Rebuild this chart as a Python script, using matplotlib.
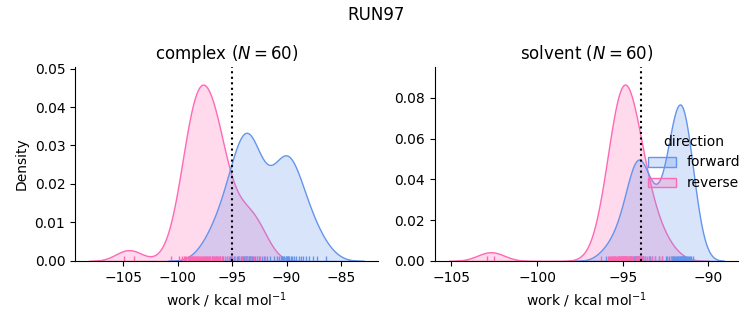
import matplotlib
matplotlib.use("Agg")
import matplotlib.pyplot as plt
import pandas as pd
import seaborn as sns

# work values (kcal/mol)
complex_forward = [
    -97.4, -96.9, -96.5, -96.1, -95.8, -95.5, -95.2, -95.1, -95.0, -94.8,
    -94.6, -94.5, -94.4, -94.2, -94.1, -94.0, -93.9, -93.8, -93.7, -93.65,
    -93.6, -93.5, -93.45, -93.4, -93.3, -93.25, -93.2, -93.1, -92.9, -92.7,
    -92.5, -92.3, -92.1, -91.8, -91.5, -91.2, -90.9, -90.7, -90.5, -90.4,
    -90.3, -90.2, -90.1, -90.05, -90.0, -89.9, -89.85, -89.8, -89.6, -89.5,
    -89.3, -89.1, -88.9, -88.7, -88.5, -88.2, -87.9, -87.6, -87.2, -86.4,
]
complex_reverse = [
    -104.97, -103.98, -100.6,
    -99.9, -99.6, -99.4, -99.3, -99.2, -99.05, -98.95, -98.9, -98.8, -98.7,
    -98.65, -98.6, -98.5, -98.4, -98.35, -98.3, -98.2, -98.1, -98.05, -98.0,
    -97.9, -97.8, -97.7, -97.6, -97.5, -97.4, -97.3, -97.2, -97.15, -97.1,
    -97.0, -96.9, -96.85, -96.8, -96.7, -96.6, -96.5, -96.4, -96.3, -96.2,
    -96.1, -95.95, -95.9, -95.7, -95.5,
    -95.3, -95.0, -94.7, -94.4, -94.1, -93.8, -93.6, -93.3, -93.0, -92.7,
    -92.4, -92.0,
]
solvent_forward = [
    -96.0, -95.5, -95.2, -95.0, -94.8, -94.6, -94.5, -94.4, -94.35, -94.3,
    -94.25, -94.2, -94.15, -94.1, -94.05, -94.0, -93.95, -93.9, -93.85, -93.8,
    -93.7, -93.5, -93.4, -93.3, -93.1, -92.9, -92.7, -92.5, -92.4, -92.3,
    -92.2, -92.15, -92.1, -92.05, -92.0, -91.95, -91.9, -91.85, -91.8, -91.75,
    -91.7, -91.65, -91.62, -91.6, -91.58, -91.55, -91.52, -91.5, -91.48, -91.45,
    -91.42, -91.4, -91.35, -91.3, -91.25, -91.2, -91.15, -91.1, -91.0, -90.9,
]
solvent_reverse = [
    -102.9, -102.5,
    -96.3, -95.85, -95.8, -95.75, -95.7, -95.65, -95.6, -95.55, -95.5, -95.45,
    -95.4, -95.35, -95.3, -95.25, -95.2, -95.15, -95.12, -95.1, -95.08, -95.05,
    -95.02, -95.0, -94.98, -94.95, -94.92, -94.9, -94.88, -94.85, -94.82, -94.8,
    -94.75, -94.72, -94.7, -94.65, -94.6, -94.55, -94.5, -94.45, -94.4, -94.3,
    -94.25, -94.2, -94.15, -94.1, -94.05, -94.0, -93.9, -93.8, -93.7, -93.6,
    -93.5, -93.3, -93.1, -92.9, -92.7, -92.2,
]
phases = ["complex", "solvent"]
free_energy = [-95.0, -93.95]  # dotted reference lines

rows = []
for phase, fwd, rev in [("complex", complex_forward, complex_reverse),
                        ("solvent", solvent_forward, solvent_reverse)]:
    rows += [(phase, "forward", w) for w in fwd]
    rows += [(phase, "reverse", w) for w in rev]
df = pd.DataFrame(rows, columns=["phase", "direction", "work"])

palette = {"forward": "cornflowerblue", "reverse": "hotpink"}
g = sns.displot(data=df, x="work", hue="direction", col="phase", kind="kde",
                fill=True, rug=True, palette=palette,
                facet_kws={"sharex": False, "sharey": False})

g.fig.set_size_inches(7.53, 3.25)
for ax, phase, dg in zip(g.axes.flat, phases, free_energy):
    n = len(df[(df.phase == phase) & (df.direction == "forward")])
    ax.set_title(f"{phase} ($N = {n}$)")
    ax.axvline(dg, color="black", linestyle=":")
    ax.set_xlabel("work / kcal mol$^{-1}$")
g.axes.flat[0].set_ylabel("Density")

g.fig.suptitle("RUN97", fontsize=12)
g.fig.subplots_adjust(left=0.0996, right=0.980, top=0.794, bottom=0.197, wspace=0.188)
sns.move_legend(g, "center right", bbox_to_anchor=(1.0, 0.5), frameon=False)

g.fig.savefig("out.png", dpi=100)
